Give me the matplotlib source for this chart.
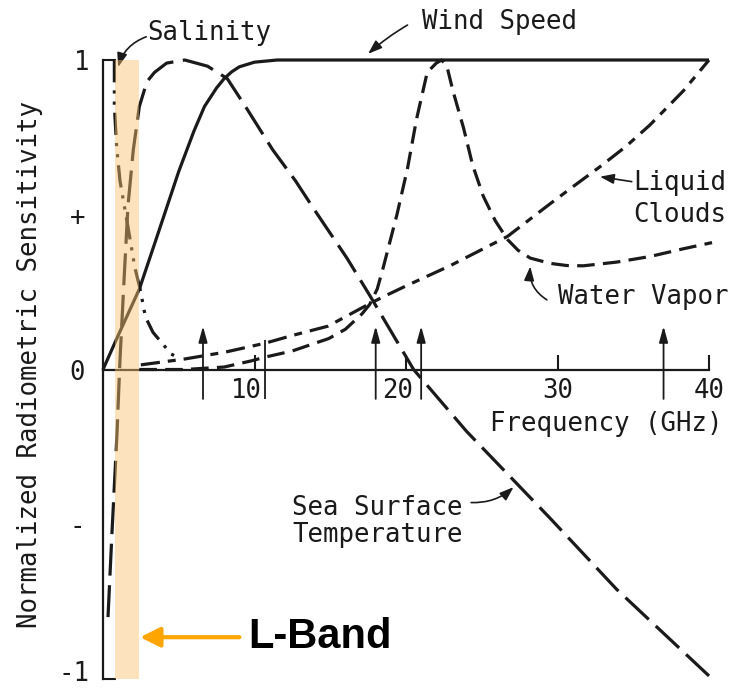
import matplotlib.pyplot as plt
from matplotlib.transforms import ScaledTranslation

# ---------------------------------------------------------------------------
# Data (frequency in GHz, normalized radiometric sensitivity)
# ---------------------------------------------------------------------------

wind_x = [0, 1.0, 2.4, 3.5, 5.0, 6.0, 6.7, 7.5, 8.0, 8.5, 9.0, 10.0, 11.5, 13, 15, 20, 30, 40]
wind_y = [0, 0.11, 0.26, 0.42, 0.64, 0.77, 0.85, 0.91, 0.94, 0.962, 0.978, 0.993, 1.0, 1.0,
          1.0, 1.0, 1.0, 1.0]

sst_x = [0.33, 0.6, 0.92, 1.12, 1.4, 1.65, 2.0, 2.4, 2.9, 3.4, 4.2, 5.4, 6.9, 8.2,
         9.4, 11.2, 12.7, 13.9, 16.1, 17.6, 20.5, 24.0, 29.5, 33.9, 40.0]
sst_y = [-0.80, -0.52, -0.21, 0.03, 0.30, 0.53, 0.71, 0.85, 0.93, 0.96, 0.99, 1.0, 0.98, 0.94,
         0.85, 0.71, 0.61, 0.52, 0.36, 0.24, 0.0, -0.20, -0.48, -0.71, -0.99]

sal_x = [0.75, 0.75, 0.9, 1.12, 1.65, 2.1, 2.45, 2.8, 3.3, 3.9, 4.5, 4.9]
sal_y = [1.0, 0.85, 0.72, 0.61, 0.46, 0.33, 0.26, 0.17, 0.12, 0.085, 0.05, 0.04]

wv_x = [2.4, 4.0, 5.4, 8.0, 9.8, 10.7, 12.5, 14.9, 16.0, 17.1, 17.6, 18.1, 18.5, 19.4,
        20.1, 20.7, 21.4, 22.0, 22.35, 22.7, 23.1, 23.8, 24.4, 25.1, 25.9, 26.7, 27.4, 28.2,
        29.5, 30.6, 31.7, 33.9, 36.1, 38.3, 40.2]
wv_y = [0.0, 0.0, 0.0, 0.008, 0.028, 0.04, 0.06, 0.10, 0.13, 0.18, 0.21, 0.26, 0.33, 0.50,
        0.65, 0.81, 0.96, 0.99, 1.0, 0.98, 0.90, 0.78, 0.66, 0.56, 0.48, 0.42, 0.385, 0.36,
        0.343, 0.336, 0.335, 0.347, 0.365, 0.39, 0.41]

lc_x = [2.5, 5.4, 8.05, 10.7, 12.5, 14.85, 17.5, 18.5, 20.0, 22.9, 24.9, 26.7, 27.5,
        29.5, 31.0, 32.8, 34.5, 36.1, 38.3, 40.0]
lc_y = [0.015, 0.034, 0.056, 0.085, 0.11, 0.14, 0.21, 0.235, 0.27, 0.335, 0.385, 0.43, 0.46,
        0.535, 0.59, 0.655, 0.72, 0.79, 0.90, 1.0]

channels = [6.6, 10.7, 18.0, 21.0, 37.0]
channel_arrow = [True, False, True, True, True]
lband = (0.8, 2.4)

x_ticks = [10, 20, 30, 40]
y_labels = {1: "1", 0.5: "+", 0: "0", -0.5: "-", -1: "-1"}

# ---------------------------------------------------------------------------
# Figure
# ---------------------------------------------------------------------------

plt.rcParams["font.family"] = ["DejaVu Sans Mono"]
plt.rcParams["font.size"] = 18.5

fig = plt.figure(figsize=(7.33, 6.88), dpi=100)
ax = fig.add_axes([103 / 733, 9 / 688, 606 / 733, 619 / 688])
ax.set_xlim(0, 40)
ax.set_ylim(-1, 1)

ink = "#1a1a1a"
lw = 2.3
common = dict(color=ink, lw=lw, clip_on=False, solid_capstyle="butt", dash_capstyle="butt")

ax.plot(wind_x, wind_y, ls="-", **common)
ax.plot(sst_x, sst_y, ls=(0, (10, 3)), **common)
ax.plot(sal_x, sal_y, ls=(0, (7, 2.5, 1, 2.5, 1, 2.5)), **common)
ax.plot(wv_x, wv_y, ls=(0, (5.5, 2.6)), **common)
ax.plot(lc_x, lc_y, ls=(0, (6, 2.5, 2.5, 2.5)), **common)

# radiometer channels
for f, has_head in zip(channels, channel_arrow):
    if has_head:
        ax.annotate("", xy=(f, 0.14), xytext=(f, -0.095),
                    arrowprops=dict(arrowstyle="-|>,head_length=0.8,head_width=0.22",
                                    lw=1.3, color=ink, mutation_scale=12,
                                    shrinkA=0, shrinkB=0))
    else:
        ax.vlines(f, -0.095, 0.095, color=ink, lw=1.3)

# L-band highlight
ax.fill_between(lband, -1, 1, color="#F9C36F", alpha=0.45, lw=0, zorder=10)
ax.annotate("", xy=(2.45, -0.865), xytext=(9.0, -0.865),
            arrowprops=dict(arrowstyle="-|>,head_length=0.8,head_width=0.4",
                            lw=3, color="#FFA500", mutation_scale=15,
                            shrinkA=0, shrinkB=0))
ax.text(9.6, -0.865, "L-Band", family=["Liberation Sans"], fontsize=30,
        fontweight="bold", ha="left", va="center")

# axes
for side in ("top", "right"):
    ax.spines[side].set_visible(False)
ax.spines["left"].set_bounds(-1, 1)
ax.spines["bottom"].set_position(("data", 0))
ax.spines["bottom"].set_bounds(0, 40)
for side in ("left", "bottom"):
    ax.spines[side].set_linewidth(1.6)
    ax.spines[side].set_color(ink)

ax.set_xticks(x_ticks, [str(t) for t in x_ticks])
ax.tick_params(axis="x", direction="in", length=11, width=1.5, pad=6, colors=ink)

ax.set_yticks([-1, 1], [y_labels[-1], y_labels[1]])
ax.set_yticks([-0.5, 0, 0.5], [y_labels[-0.5], y_labels[0], y_labels[0.5]], minor=True)
ax.tick_params(axis="y", which="major", direction="in", length=9, width=1.5, pad=10, colors=ink)
ax.tick_params(axis="y", which="minor", length=0, pad=13, colors=ink)

# nudge a few tick labels the way the original lettering sits
for tick in ax.xaxis.get_major_ticks()[:2]:
    tick.label1.set_transform(tick.label1.get_transform()
                              + ScaledTranslation(-0.08, 0, fig.dpi_scale_trans))
bottom_tick = ax.yaxis.get_major_ticks()[0]
bottom_tick.label1.set_transform(bottom_tick.label1.get_transform()
                                 + ScaledTranslation(0, 0.08, fig.dpi_scale_trans))

fig.text(30 / 733, 1 - 365 / 688, "Normalized Radiometric Sensitivity",
         rotation=90, ha="center", va="center", color=ink)
ax.text(33.2, -0.176, "Frequency (GHz)", ha="center", va="center", color=ink)

# curve labels
arrow_kw = dict(arrowstyle="-|>,head_length=0.7,head_width=0.25", lw=1.2,
                color=ink, mutation_scale=12, shrinkA=0, shrinkB=0)

ax.text(2.9, 1.087, "Salinity", ha="left", va="center", color=ink)
ax.annotate("", xy=(1.0, 0.977), xytext=(2.85, 1.075),
            arrowprops=dict(connectionstyle="arc3,rad=0.25", **arrow_kw), annotation_clip=False)

ax.text(21.05, 1.122, "Wind Speed", ha="left", va="center", color=ink)
ax.annotate("", xy=(17.5, 1.02), xytext=(20.1, 1.113),
            arrowprops=dict(connectionstyle="arc3,rad=0.05", **arrow_kw), annotation_clip=False)

ax.text(35.0, 0.552, "Liquid\nClouds", ha="left", va="center", linespacing=1.3, color=ink)
ax.annotate("", xy=(32.8, 0.623), xytext=(34.9, 0.607), arrowprops=dict(**arrow_kw))

ax.text(30.0, 0.233, "Water Vapor", ha="left", va="center", color=ink)
ax.annotate("", xy=(28.2, 0.333), xytext=(29.3, 0.225),
            arrowprops=dict(connectionstyle="arc3,rad=-0.3", **arrow_kw))

ax.text(12.5, -0.49, "Sea Surface\nTemperature", ha="left", va="center",
        linespacing=1.05, color=ink)
ax.annotate("", xy=(27.1, -0.38), xytext=(24.3, -0.43),
            arrowprops=dict(connectionstyle="arc3,rad=0.2", **arrow_kw))

fig.savefig("out.png", dpi=100)
